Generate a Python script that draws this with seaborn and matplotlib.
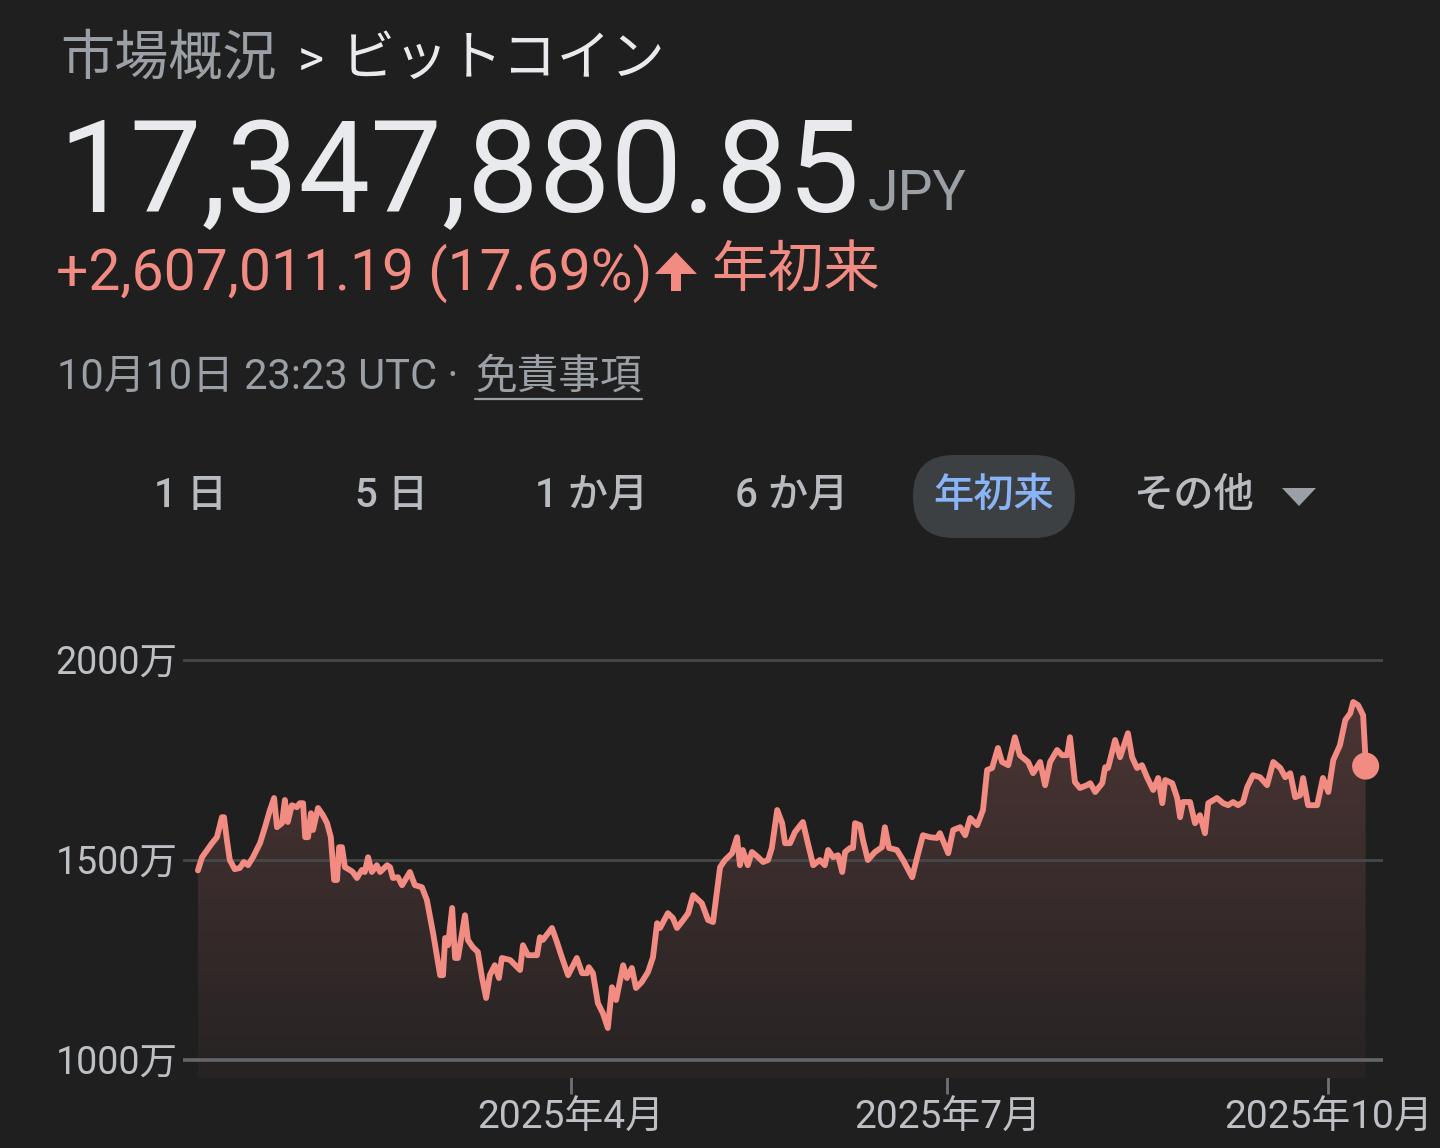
import numpy as np
import pandas as pd
import matplotlib
matplotlib.use("Agg")
import matplotlib.pyplot as plt
from matplotlib.patches import FancyBboxPatch, Polygon, PathPatch
from matplotlib.colors import to_rgb
import seaborn as sns

# days since 2025-01-01 and price in 万円
day_offset = [
    0.0, 1.0, 3.4, 4.6, 5.8, 6.3, 7.0, 7.7, 8.9, 10.1, 11.1, 12.1, 13.3, 15.0, 16.2, 17.4,
    18.4, 19.1, 20.3, 21.0, 21.7, 22.7, 23.9, 24.6, 25.4, 25.9, 26.6, 27.3, 27.8, 29.0, 30.2,
    31.2, 32.1, 32.9, 33.6, 34.1, 34.8, 35.5, 36.7, 37.4, 38.4, 39.6, 40.3, 41.1, 42.0, 43.2,
    44.0, 45.7, 46.4, 47.1, 48.3, 49.3, 51.2, 52.4, 54.1, 55.3, 56.8, 58.5, 59.2, 59.7, 60.4,
    61.4, 62.1, 62.8, 64.5, 65.2, 66.4, 67.6, 68.6, 69.6, 70.5, 71.7, 72.7, 73.4, 75.4, 77.8,
    78.5, 79.7, 81.9, 82.6, 83.3, 85.5, 86.7, 87.9, 89.4, 91.5, 92.8, 94.0, 94.4, 95.4, 96.6,
    97.8, 99.0, 100.0, 101.0, 102.7, 103.6, 104.8, 105.8, 107.2, 108.7, 109.9, 110.9, 111.6,
    113.5, 114.7, 115.7, 117.2, 118.4, 119.6, 121.7, 123.2, 124.4, 126.1, 127.3, 129.0, 130.2,
    130.9, 131.6, 132.8, 133.8, 135.3, 136.5, 137.7, 138.6, 139.9, 141.1, 141.8, 143.0, 144.2,
    146.1, 147.3, 148.6, 150.2, 151.4, 152.2, 153.4, 154.6, 155.6, 156.3, 157.5, 158.2, 158.7,
    159.9, 160.6, 161.8, 163.5, 165.2, 165.9, 166.9, 168.8, 170.3, 172.5, 173.7, 175.1, 176.8,
    178.5, 179.2, 181.2, 182.4, 184.1, 185.3, 186.5, 188.2, 189.6, 190.6, 191.8, 193.2, 194.2,
    195.7, 197.3, 198.5, 200.5, 201.7, 203.4, 204.6, 205.8, 207.5, 208.7, 209.9, 210.6, 211.8,
    213.0, 214.7, 215.5, 216.7, 218.4, 219.1, 219.8, 221.5, 222.7, 224.6, 225.6, 226.8, 228.0,
    229.2, 230.7, 231.9, 232.9, 233.6, 235.3, 236.5, 237.2, 237.9, 239.6, 240.8, 242.0, 243.2,
    244.0, 246.1, 247.6, 248.8, 250.0, 251.2, 252.4, 253.4, 254.8, 256.5, 258.2, 259.7, 261.4,
    262.6, 263.8, 265.0, 266.2, 266.9, 268.1, 270.3, 271.7, 273.0, 274.2, 275.8, 277.1, 278.3,
    279.0, 280.2, 281.4, 281.9, 282.0,
]
price_man = [
    1474, 1507, 1542, 1557, 1607, 1607, 1550, 1500, 1477, 1480, 1495, 1487, 1507, 1542, 1582, 1625,
    1655, 1582, 1592, 1650, 1595, 1637, 1632, 1642, 1642, 1557, 1557, 1617, 1575, 1630, 1612,
    1592, 1557, 1450, 1450, 1532, 1532, 1482, 1475, 1470, 1455, 1475, 1470, 1507, 1470, 1487,
    1470, 1487, 1482, 1455, 1457, 1437, 1470, 1437, 1432, 1400, 1317, 1212, 1212, 1305, 1287,
    1380, 1255, 1255, 1362, 1300, 1282, 1270, 1207, 1155, 1212, 1237, 1205, 1255, 1250, 1225,
    1287, 1262, 1262, 1307, 1300, 1330, 1295, 1257, 1212, 1255, 1217, 1217, 1232, 1217, 1142,
    1117, 1080, 1182, 1150, 1237, 1205, 1230, 1180, 1195, 1220, 1257, 1342, 1330,
    1367, 1355, 1330, 1350, 1367, 1412, 1392, 1350, 1345, 1482, 1500, 1517, 1557,
    1487, 1525, 1487, 1520, 1507, 1495, 1500, 1530, 1625, 1592, 1542, 1542, 1570,
    1595, 1542, 1487, 1500, 1487, 1525, 1507, 1512, 1470, 1520, 1530, 1530, 1592,
    1587, 1550, 1500, 1520, 1532, 1582, 1530, 1525, 1500, 1457, 1507, 1562, 1557,
    1555, 1567, 1517, 1575, 1582, 1562, 1605, 1587, 1625, 1725, 1730, 1780, 1745,
    1737, 1807, 1762, 1745, 1717, 1745, 1687, 1745, 1775, 1762, 1762, 1807, 1695,
    1680, 1687, 1692, 1670, 1692, 1732, 1730, 1800, 1757, 1817, 1757, 1730, 1737,
    1707, 1675, 1705, 1642, 1700, 1692, 1655, 1607, 1645, 1645, 1592, 1612, 1567,
    1642, 1655, 1642, 1637, 1645, 1637, 1645, 1682, 1712, 1707, 1687, 1745, 1730,
    1707, 1717, 1657, 1662, 1705, 1637, 1637, 1705, 1670, 1750, 1787, 1850, 1867,
    1895, 1887, 1862, 1767, 1734.8,
]
tick_dates = ["2025-04-01", "2025-07-01", "2025-10-01"]
tick_labels = ["2025年4月", "2025年7月", "2025年10月"]
y_ticks = [1000, 1500, 2000]
y_labels = ["1000万", "1500万", "2000万"]
tab_labels = ["1 日", "5 日", "1 か月", "6 か月", "年初来", "その他"]
tab_centers = [191, 392, 592, 792, 994, 1193]

sns.set_theme(style="dark")
plt.rcParams["font.family"] = ["Roboto", "Noto Sans CJK JP", "DejaVu Sans"]

BG = "#1f1f1f"
RED = "#f28b82"
GREY = "#9aa0a6"
LIGHT = "#e8eaed"

fig = plt.figure(figsize=(14.4, 11.48), dpi=100, facecolor=BG)

# ---- chart ----
ax = fig.add_axes([183 / 1440, 1 - 1078 / 1148, 1200 / 1440, 478 / 1148])
ax.set_facecolor(BG)

start = pd.Timestamp("2025-01-01")
df = pd.DataFrame({
    "date": start + pd.to_timedelta(day_offset, unit="D"),
    "price": price_man,
})

y_bottom, y_top = 955, 2150
x_left = start - pd.Timedelta(days=3.6)
x_right = start + pd.Timedelta(days=286.2)

sns.lineplot(data=df, x="date", y="price", color=RED, linewidth=4.2,
             estimator=None, sort=False, ax=ax, zorder=4)

# gradient fill under the line
xnum = matplotlib.dates.date2num(df["date"])
poly = ax.fill_between(xnum, df["price"], y_bottom, color="none", linewidth=0)
clip = PathPatch(poly.get_paths()[0], transform=ax.transData,
                 facecolor="none", edgecolor="none")
ax.add_patch(clip)
c_top = np.array(to_rgb("#4b3534"))
c_bot = np.array(to_rgb("#272323"))
t = np.linspace(0, 1, 256)[:, None]
grad = (c_bot * (1 - t) + c_top * t)[:, None, :]
im = ax.imshow(grad, extent=[xnum[0], xnum[-1], y_bottom, 1900],
               aspect="auto", origin="lower", zorder=1)
im.set_clip_path(clip)

ax.axhline(2000, color="#45484b", lw=2, zorder=2)
ax.axhline(1500, color="#45484b", lw=2, zorder=2)
ax.axhline(1000, color="#646669", lw=2.6, zorder=2)

sns.scatterplot(x=[df["date"].iloc[-1]], y=[df["price"].iloc[-1]], s=380,
                color=RED, edgecolor="none", ax=ax, zorder=5)

ax.set_xlim(x_left, x_right)
ax.set_ylim(y_bottom, y_top)
ax.grid(False)
for s in ax.spines.values():
    s.set_visible(False)
ax.set_xlabel("")
ax.set_ylabel("")
ax.set_yticks(y_ticks, y_labels)
ax.set_xticks(pd.to_datetime(tick_dates), tick_labels)
ax.tick_params(axis="y", left=False, length=0, pad=4, labelsize=27, labelcolor="#bdc1c6")
ax.tick_params(axis="x", bottom=True, direction="inout", length=23, width=2,
               color="#6f7275", pad=4, labelsize=28, labelcolor="#bdc1c6")

# ---- header (pixel coordinates) ----
ov = fig.add_axes([0, 0, 1, 1])
ov.set_xlim(0, 1440)
ov.set_ylim(1148, 0)
ov.axis("off")

ov.text(60, 60, "市場概況", fontsize=39, color=GREY, va="center", ha="left")
ov.text(298, 62, ">", fontsize=36, color=LIGHT, va="center", ha="left")
ov.text(341, 60, "ビットコイン", fontsize=39, color=LIGHT, va="center", ha="left")

ov.text(58, 212, "17,347,880.85", fontsize=92, color=LIGHT, va="baseline", ha="left")
ov.text(868, 209, "JPY", fontsize=40, color=GREY, va="baseline", ha="left")

ov.text(56, 290, "+2,607,011.19 (17.69%)", fontsize=41, color=RED, va="baseline", ha="left")
ov.add_patch(Polygon([(655, 274), (697, 274), (676, 252)], closed=True, color=RED, lw=0))
ov.add_patch(Polygon([(671, 270), (681, 270), (681, 291), (671, 291)], closed=True, color=RED, lw=0))
ov.text(711, 271, "年初来", fontsize=40.5, color=RED, va="center", ha="left")

ov.text(57, 377, "10月10日 23:23 UTC · ", fontsize=30, color=GREY, va="center", ha="left")
disc = ov.text(475, 377, "免責事項", fontsize=30, color=GREY, va="center", ha="left")
fig.canvas.draw()
bb = disc.get_window_extent()
ov.plot([bb.x0, bb.x1], [399, 399], color=GREY, lw=1.6)

# ---- range tabs ----
ov.add_patch(FancyBboxPatch((913, 455), 162, 83,
                            boxstyle="round,pad=0,rounding_size=41",
                            facecolor="#3c4043", edgecolor="none"))
for lab, cx in zip(tab_labels, tab_centers):
    col = "#8ab4f8" if lab == "年初来" else "#b8bbbf"
    ov.text(cx, 496, lab, fontsize=29, color=col, va="center", ha="center",
            fontweight="medium")
ov.add_patch(Polygon([(1282, 488), (1316, 488), (1299, 506)], closed=True,
                     color=GREY, lw=0))

fig.savefig("out.png", dpi=100, facecolor=BG)
